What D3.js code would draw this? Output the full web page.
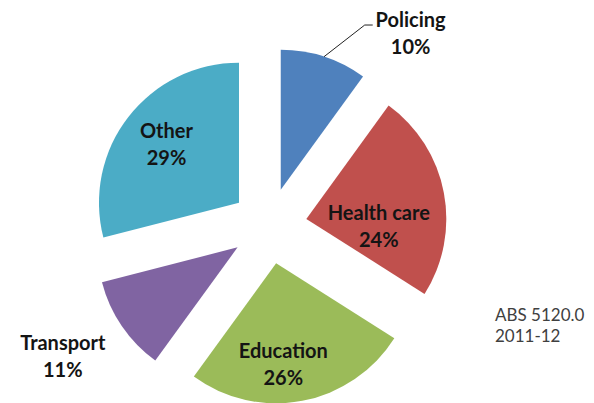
<!DOCTYPE html>
<html>
<head>
<meta charset="utf-8">
<script src="https://cdn.jsdelivr.net/npm/d3@7"></script>
<style>
	body { margin: 0; background: #fff; }
	svg { display: block; }
	text { font-family: Lato, "Open Sans", sans-serif; }
</style>
</head>
<body>
<svg id="chart" width="594" height="403"></svg>
<script>
const categories = ['Policing', 'Health care', 'Education', 'Transport', 'Other']
const shares = [10, 24, 26, 11, 29]
const colors = ['#4F81BD', '#C0504D', '#9BBB59', '#8064A2', '#4BACC6']
const sourceNote = ['ABS 5120.0', '2011-12']
const leaderSlices = ['Policing']

// where each label sits: angle (deg, clockwise from 12 o'clock) and distance from the slice tip
const labelAngle = [40, 97, 176, 237.6, 308]
const labelDist = [202, 73, 103, 207, 92]

const cx = 269, cy = 226, radius = 140, explode = 38
const rad = d => d * Math.PI / 180

const data = categories.map((name, i) => ({ name, value: shares[i], color: colors[i], i }))

const pie = d3.pie().sort(null).value(d => d.value)
const arc = d3.arc().innerRadius(0).outerRadius(radius)
const slices = pie(data)

const offset = s => {
	const mid = (s.startAngle + s.endAngle) / 2
	return [explode * Math.sin(mid), -explode * Math.cos(mid)]
}

const svg = d3.select('#chart')
const g = svg.append('g').attr('transform', `translate(${cx},${cy})`)

g.selectAll('path.slice')
	.data(slices)
	.join('path')
	.attr('class', 'slice')
	.attr('transform', s => `translate(${offset(s)})`)
	.attr('d', arc)
	.attr('fill', s => s.data.color)

// leader line for labels pulled outside
slices.filter(s => leaderSlices.includes(s.data.name)).forEach(s => {
	const [ox, oy] = offset(s)
	const mid = (s.startAngle + s.endAngle) / 2
	const start = [ox + radius * Math.sin(mid), oy - radius * Math.cos(mid)]
	const a = rad(labelAngle[s.data.i] - 13)
	const elbow = [ox + 185 * Math.sin(a), oy - 185 * Math.cos(a)]
	g.append('path')
		.attr('d', d3.line()([start, elbow, [elbow[0] + 8, elbow[1]]]))
		.attr('fill', 'none')
		.attr('stroke', '#222')
		.attr('stroke-width', 1)
})

const labels = g.selectAll('g.label')
	.data(slices)
	.join('g')
	.attr('class', 'label')
	.attr('transform', s => {
		const [ox, oy] = offset(s)
		const a = rad(labelAngle[s.data.i])
		const d = labelDist[s.data.i]
		return `translate(${ox + d * Math.sin(a)},${oy - d * Math.cos(a)})`
	})

labels.append('text')
	.attr('text-anchor', 'middle')
	.attr('y', -13)
	.attr('dominant-baseline', 'middle')
	.attr('font-size', 20)
	.attr('font-weight', 700)
	.attr('fill', '#141414')
	.text(s => s.data.name)

labels.append('text')
	.attr('text-anchor', 'middle')
	.attr('y', 14)
	.attr('dominant-baseline', 'middle')
	.attr('font-size', 20)
	.attr('font-weight', 700)
	.attr('fill', '#141414')
	.text(s => `${s.data.value}%`)

svg.append('g')
	.selectAll('text')
	.data(sourceNote)
	.join('text')
	.attr('x', 495)
	.attr('y', (d, i) => 321 + i * 21)
	.attr('font-size', 17)
	.attr('fill', '#404040')
	.text(d => d)
</script>
</body>
</html>
